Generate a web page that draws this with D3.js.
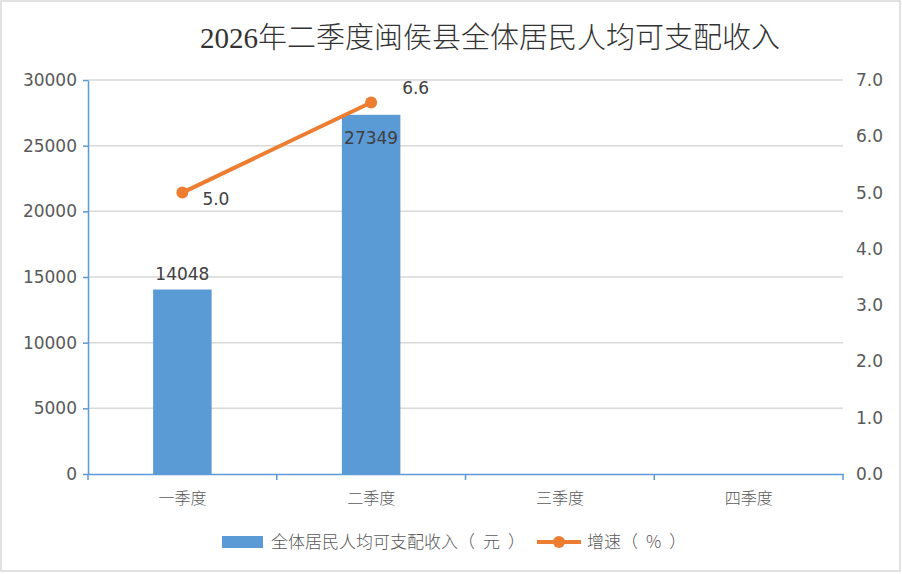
<!DOCTYPE html>
<html><head><meta charset="utf-8">
<script src="https://cdn.jsdelivr.net/npm/d3@7"></script>
<style>body{margin:0;background:#fff;} svg{display:block;}</style>
</head><body>
<svg id="c" width="902" height="574"></svg>
<script>
const categories = ["一季度","二季度","三季度","四季度"];
const incomeValues = [14048, 27349, null, null];
const growthValues = [5.0, 6.6, null, null];
const leftTicks = [0,5000,10000,15000,20000,25000,30000];
const rightTicks = [0,1,2,3,4,5,6,7];
const titleText = "2026年二季度闽侯县全体居民人均可支配收入";
const seriesNames = ["全体居民人均可支配收入（元）","增速（%）"];

const svg = d3.select("#c");
const L = 88, R = 843, T = 80, B = 474;
const blue = "#5b9bd5", orange = "#ed7d31";
const numFont = "'DejaVu Sans', sans-serif";
const cjkFont = "'Noto Sans CJK SC', sans-serif";

svg.append("rect").attr("x",1).attr("y",1).attr("width",899).attr("height",570)
  .attr("fill","#fff").attr("stroke","#d9d9d9").attr("stroke-width",1.5);

svg.append("text").attr("x",490).attr("y",48).attr("text-anchor","middle")
  .attr("font-family","'Liberation Serif', 'Noto Sans CJK SC', serif")
  .attr("font-size",29).attr("font-weight",300).attr("fill","#333").text(titleText);

const x = d3.scaleBand().domain(categories).range([L,R]).paddingInner(0).paddingOuter(0);
const yL = d3.scaleLinear().domain([0,30000]).range([B,T]);
const yR = d3.scaleLinear().domain([0,7]).range([B,T]);

// gridlines
svg.append("g").selectAll("line").data(leftTicks.slice(1)).join("line")
  .attr("x1",L).attr("x2",R).attr("y1",d=>yL(d)).attr("y2",d=>yL(d))
  .attr("stroke","#d9d9d9").attr("stroke-width",1.5);

// bars
const bw = x.bandwidth()*0.31;
svg.append("g").selectAll("rect").data(categories.map((c,i)=>({c,v:incomeValues[i]})).filter(d=>d.v!=null))
  .join("rect")
  .attr("x",d=>x(d.c)+x.bandwidth()/2-bw/2).attr("width",bw)
  .attr("y",d=>yL(d.v)).attr("height",d=>yL(0)-yL(d.v)).attr("fill",blue);

// left axis
const gl = svg.append("g").attr("transform",`translate(${L},0)`)
  .call(d3.axisLeft(yL).tickValues(leftTicks).tickFormat(d3.format("d")).tickSize(5).tickSizeOuter(0));
gl.select(".domain").attr("stroke",blue).attr("stroke-width",1.5);
gl.selectAll(".tick line").attr("stroke",blue).attr("stroke-width",1.5);
gl.selectAll("text").attr("font-family",numFont).attr("font-size",17).attr("fill","#595959").attr("x",-11);

// right axis
const gr = svg.append("g").attr("transform",`translate(${R},0)`)
  .call(d3.axisRight(yR).tickValues(rightTicks).tickFormat(d3.format(".1f")).tickSize(0));
gr.select(".domain").remove();
gr.selectAll("text").attr("font-family",numFont).attr("font-size",17).attr("fill","#595959").attr("x",13);

// bottom axis
const gb = svg.append("g").attr("transform",`translate(0,${B})`)
  .call(d3.axisBottom(x).tickSize(0));
gb.select(".domain").attr("stroke",blue).attr("stroke-width",1.5);
gb.selectAll("text").attr("font-family",cjkFont).attr("font-size",16).attr("font-weight",300)
  .attr("fill","#595959").attr("dy","1.7em");
svg.append("g").selectAll("line").data(categories.concat(["end"])).join("line")
  .attr("x1",(d,i)=>L+i*x.bandwidth()).attr("x2",(d,i)=>L+i*x.bandwidth())
  .attr("y1",B).attr("y2",B+6).attr("stroke",blue).attr("stroke-width",1.5);

// bar labels
const barData = categories.map((c,i)=>({c,v:incomeValues[i]})).filter(d=>d.v!=null);
svg.append("g").selectAll("text").data(barData).join("text")
  .attr("x",d=>x(d.c)+x.bandwidth()/2)
  .attr("y",(d,i)=> i===0 ? yL(d.v)-10 : yL(d.v)+29)
  .attr("text-anchor","middle").attr("font-family",numFont).attr("font-size",17).attr("fill","#404040")
  .text(d=>d.v);

// line
const lineData = categories.map((c,i)=>({c,v:growthValues[i]})).filter(d=>d.v!=null);
svg.append("path").datum(lineData)
  .attr("d",d3.line().x(d=>x(d.c)+x.bandwidth()/2).y(d=>yR(d.v)))
  .attr("fill","none").attr("stroke",orange).attr("stroke-width",4).attr("stroke-linecap","round");
svg.append("g").selectAll("circle").data(lineData).join("circle")
  .attr("cx",d=>x(d.c)+x.bandwidth()/2).attr("cy",d=>yR(d.v)).attr("r",6).attr("fill",orange);
svg.append("g").selectAll("text").data(lineData).join("text")
  .attr("x",(d,i)=>x(d.c)+x.bandwidth()/2+(i===0 ? 20 : 31))
  .attr("y",(d,i)=> i===0 ? yR(d.v)+12 : yR(d.v)-9)
  .attr("font-family",numFont).attr("font-size",17).attr("fill","#404040")
  .text(d=>d3.format(".1f")(d.v));

// legend
function legendText(xPos, name){
  const k = name.indexOf("（");
  const t = lg.append("text").attr("x",xPos).attr("y",548).attr("font-family",cjkFont).attr("font-size",17)
    .attr("font-weight",300).attr("fill","#595959");
  t.append("tspan").text(name.slice(0,k));
  t.append("tspan").attr("letter-spacing",8).text(name.slice(k));
}
const lg = svg.append("g");
lg.append("rect").attr("x",222).attr("y",536).attr("width",41).attr("height",12).attr("fill",blue);
legendText(271, seriesNames[0]);
lg.append("line").attr("x1",537).attr("x2",581).attr("y1",542).attr("y2",542).attr("stroke",orange).attr("stroke-width",4);
lg.append("circle").attr("cx",559).attr("cy",542).attr("r",6).attr("fill",orange);
legendText(587, seriesNames[1]);
</script>
</body></html>
